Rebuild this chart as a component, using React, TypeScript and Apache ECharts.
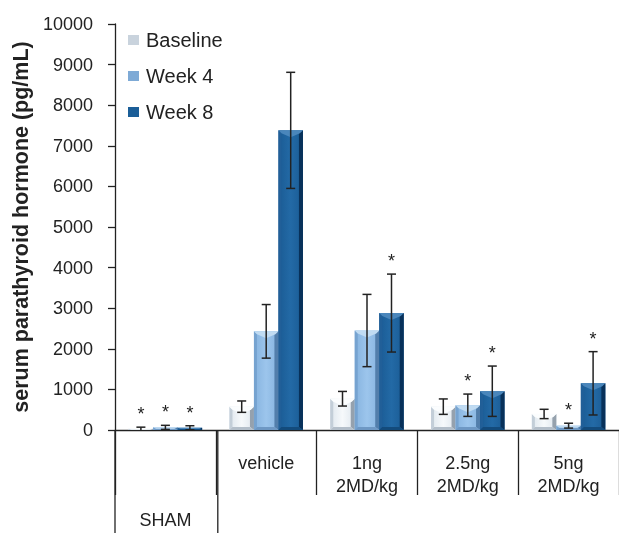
import React, { useEffect, useRef } from "react";
import * as echarts from "echarts";

const categories = ["SHAM", "vehicle", "1ng\n2MD/kg", "2.5ng\n2MD/kg", "5ng\n2MD/kg"];
const seriesNames = ["Baseline", "Week 4", "Week 8"];
const baseline = [30, 575, 770, 575, 395];
const baselineErr = [40, 140, 180, 190, 115];
const baselineStar = [1, 0, 0, 0, 0];
const week4 = [65, 2430, 2450, 610, 107];
const week4Err = [50, 660, 890, 275, 60];
const week4Star = [1, 0, 0, 1, 1];
const week8 = [55, 7380, 2880, 955, 1150];
const week8Err = [50, 1430, 960, 620, 780];
const week8Star = [1, 0, 1, 1, 1];
const yTicks = [0, 1000, 2000, 3000, 4000, 5000, 6000, 7000, 8000, 9000, 10000];

const FONT = "'Liberation Sans', Arial, Helvetica, sans-serif";

const palettes = [
  { legend: "#c9d3dd", center: ["#dfe7ee", "#f6f9fb"], top: "#fbfdfe", left: "#c3ced8", right: "#95a1ad", bottom: "#b4bfca" },
  { legend: "#7eaad6", center: ["#86b3df", "#9cc5ec"], top: "#c0dbf2", left: "#76a3d0", right: "#527eab", bottom: "#6e98c4" },
  { legend: "#1b5e98", center: ["#1a5b94", "#236aa6"], top: "#4a86bb", left: "#215f98", right: "#08315a", bottom: "#134b7c" },
];

const LEFT = 115;
const RIGHT = -10;
const TOP = 24;
const BOTTOM = 103;
const W = 619;
const H = 533;

export default function App() {
  const ref = useRef<HTMLDivElement>(null);
  useEffect(() => {
    if (!ref.current) return;
    const chart = echarts.init(ref.current, null, { renderer: "svg" });
    const vals = [baseline, week4, week8];
    const errs = [baselineErr, week4Err, week8Err];
    const stars = [baselineStar, week4Star, week8Star];

    const makeSeries = (k: number) => ({
      type: "custom",
      name: seriesNames[k],
      itemStyle: { color: palettes[k].legend },
      clip: false,
      data: categories.map((_, i) => [i, vals[k][i], errs[k][i], stars[k][i]]),
      renderItem: (params: any, api: any) => {
        const cat = api.value(0);
        const v = api.value(1);
        const e = api.value(2);
        const star = api.value(3);
        const base = api.coord([cat, 0]);
        const top = api.coord([cat, v]);
        const band = api.size([1, 0])[0];
        const bw = band * 0.243;
        const cx = base[0] + (k - 1) * bw;
        const x0 = cx - bw / 2;
        const x1 = cx + bw / 2;
        const y0 = top[1];
        const yb = base[1];
        const h = yb - y0;
        const b = Math.max(0, Math.min(7, h / 2, bw / 2));
        const bb = Math.max(0, Math.min(3, h / 2));
        const p = palettes[k];
        const children: any[] = [
          {
            type: "rect",
            shape: { x: x0, y: y0, width: bw, height: h },
            style: {
              fill: new echarts.graphic.LinearGradient(0, 0, 1, 0, [
                { offset: 0, color: p.center[0] },
                { offset: 0.5, color: p.center[1] },
                { offset: 1, color: p.center[0] },
              ]),
            },
          },
          { type: "polygon", shape: { points: [[x0, y0], [x0 + 3, y0 + bb], [x0 + 3, yb - bb], [x0, yb]] }, style: { fill: p.left } },
          { type: "polygon", shape: { points: [[x1, y0], [x1, yb], [x1 - 4, yb - bb], [x1 - 4, y0 + bb]] }, style: { fill: p.right } },
          { type: "polygon", shape: { points: [[x0, yb], [x0 + 3, yb - bb], [x1 - 4, yb - bb], [x1, yb]] }, style: { fill: p.bottom } },
          { type: "polygon", shape: { points: [[x0, y0], [x1, y0], [x1 - 3, y0 + bb], [cx, y0 + b], [x0 + 3, y0 + bb]] }, style: { fill: p.top } },
        ];
        const hi = api.coord([cat, v + e])[1];
        const lo = api.coord([cat, Math.max(0, v - e)])[1];
        const cap = 4.5;
        const es = { stroke: "#222", lineWidth: 1.5 };
        children.push({ type: "line", shape: { x1: cx, y1: hi, x2: cx, y2: lo }, style: es });
        children.push({ type: "line", shape: { x1: cx - cap, y1: hi, x2: cx + cap, y2: hi }, style: es });
        if (v - e > 0) children.push({ type: "line", shape: { x1: cx - cap, y1: lo, x2: cx + cap, y2: lo }, style: es });
        if (star) {
          children.push({
            type: "text",
            style: { text: "*", x: cx, y: hi - 13, fill: "#222", font: `18px ${FONT}`, textAlign: "center", textVerticalAlign: "middle" },
          });
        }
        return { type: "group", children };
      },
    });

    const band = (W - LEFT - RIGHT) / categories.length;

    chart.setOption({
      animation: false,
      textStyle: { fontFamily: FONT },
      grid: { left: LEFT, right: RIGHT, top: TOP, bottom: BOTTOM, containLabel: false },
      legend: {
        orient: "vertical",
        left: 123,
        top: 25,
        icon: "rect",
        itemWidth: 11,
        itemHeight: 10,
        itemGap: 16,
        textStyle: { fontSize: 20, color: "#222", lineHeight: 20, padding: [0, 0, 0, 2], fontFamily: FONT },
        data: seriesNames,
      },
      xAxis: {
        type: "category",
        data: categories,
        axisLine: { lineStyle: { color: "#222", width: 1.3 } },
        axisTick: { show: true, length: 65, interval: 0, lineStyle: { color: "#222", width: 1.3 } },
        axisLabel: {
          interval: 0,
          fontSize: 18,
          lineHeight: 23,
          color: "#222",
          margin: 21,
          fontFamily: FONT,
          formatter: (val: string) => (val === "SHAM" ? "{s|SHAM}" : val),
          rich: { s: { fontSize: 18, lineHeight: 23, padding: [114, 0, 0, 0], color: "#222", fontFamily: FONT } },
        },
      },
      yAxis: {
        type: "value",
        min: yTicks[0],
        max: yTicks[yTicks.length - 1],
        interval: yTicks[1] - yTicks[0],
        name: "serum parathyroid hormone (pg/mL)",
        nameLocation: "middle",
        nameGap: 83,
        nameTextStyle: { fontSize: 21.5, fontWeight: "bold", color: "#222", fontFamily: FONT },
        splitLine: { show: false },
        axisLine: { show: true, lineStyle: { color: "#222", width: 1.3 } },
        axisTick: { show: true, length: 7, lineStyle: { color: "#222", width: 1.3 } },
        axisLabel: { fontSize: 18, color: "#222", margin: 22, fontFamily: FONT, formatter: (v: number) => String(v) },
      },
      graphic: [
        { type: "line", shape: { x1: LEFT, y1: H - BOTTOM, x2: LEFT, y2: H }, style: { stroke: "#222", lineWidth: 1.3 } },
        { type: "line", shape: { x1: LEFT + band, y1: H - BOTTOM, x2: LEFT + band, y2: H }, style: { stroke: "#222", lineWidth: 1.3 } },
      ],
      series: [makeSeries(0), makeSeries(1), makeSeries(2)],
    });
    return () => chart.dispose();
  }, []);
  return <div ref={ref} style={{ position: "fixed", left: 0, top: 0, width: W, height: H }} />;
}
